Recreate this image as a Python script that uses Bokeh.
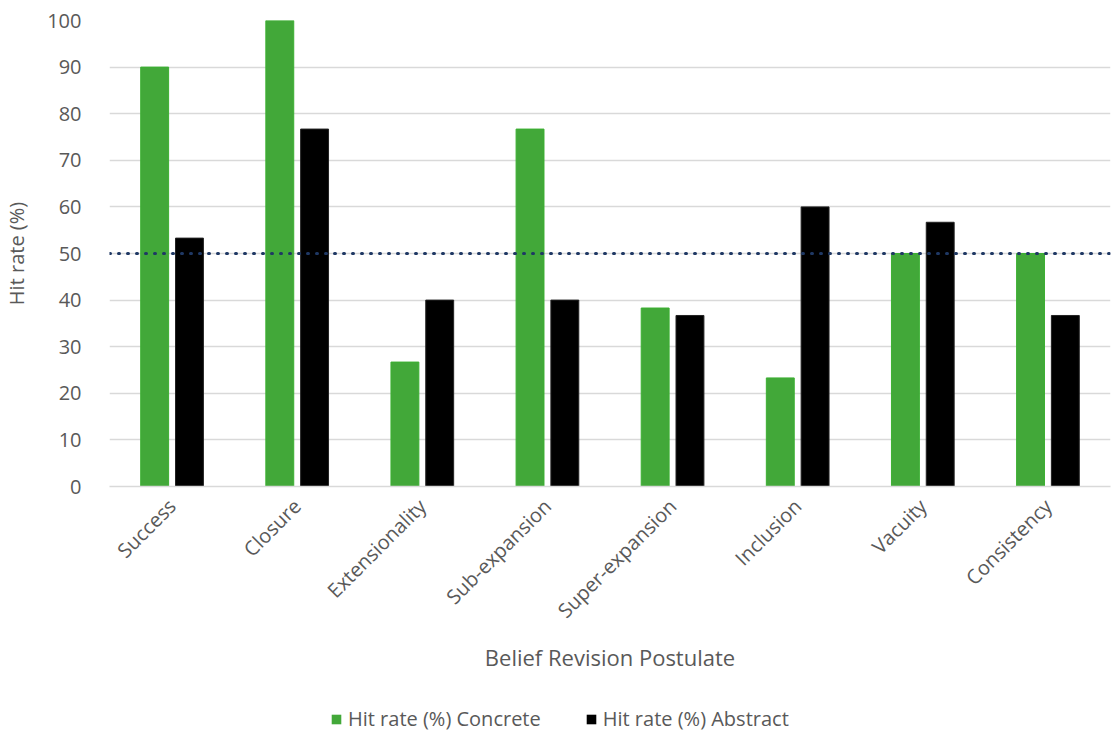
import numpy as np
from bokeh.plotting import figure
from bokeh.layouts import column
from bokeh.models import ColumnDataSource, FactorRange, Range1d, Span, Legend, LegendItem
from bokeh.transform import dodge
from bokeh.embed import file_html
from bokeh.resources import INLINE

categories = ["Success", "Closure", "Extensionality", "Sub-expansion",
              "Super-expansion", "Inclusion", "Vacuity", "Consistency"]
concrete = [90.0, 100.0, 26.7, 76.7, 38.3, 23.3, 50.0, 50.0]
abstract = [53.3, 76.7, 40.0, 40.0, 36.7, 60.0, 56.7, 36.7]
y_ticks = [0, 10, 20, 30, 40, 50, 60, 70, 80, 90, 100]
series_names = ["Hit rate (%) Concrete", "Hit rate (%) Abstract"]
threshold = 50

FONT = "Open Sans"
GREY = "#595959"
GREEN = "#42a839"
BLACK = "#000000"

src = ColumnDataSource(dict(cat=categories, concrete=concrete, abstract=abstract))

p = figure(width=1114, height=700, x_range=FactorRange(*categories),
           y_range=Range1d(0, 100), output_backend="svg", toolbar_location=None,
           min_border_left=104, min_border_right=4, min_border_top=20,
           min_border_bottom=214)
p.outline_line_color = None
p.background_fill_color = "white"
p.border_fill_color = "white"

p.vbar(x=dodge("cat", -0.139, range=p.x_range), top="concrete", width=0.223,
       source=src, fill_color=GREEN, line_color="#3cb032", line_width=1)
p.vbar(x=dodge("cat", 0.139, range=p.x_range), top="abstract", width=0.223,
       source=src, fill_color=BLACK, line_color="#222222", line_width=1)

p.add_layout(Span(location=threshold, dimension="width", line_color="#1f3864",
                  line_width=3, line_dash="1 8", line_cap="round"))

# y axis
p.yaxis.ticker = y_ticks
p.yaxis.axis_line_color = None
p.yaxis.major_tick_line_color = None
p.yaxis.minor_tick_line_color = None
p.yaxis.major_label_text_font = FONT
p.yaxis.major_label_text_font_size = "20px"
p.yaxis.major_label_text_color = GREY
p.yaxis.major_label_standoff = 22
p.yaxis.axis_label = "Hit rate (%)"
p.yaxis.axis_label_text_font = FONT
p.yaxis.axis_label_text_font_size = "20px"
p.yaxis.axis_label_text_font_style = "normal"
p.yaxis.axis_label_text_color = GREY
p.yaxis.axis_label_standoff = 14

# x axis
p.xaxis.axis_line_color = "#d9d9d9"
p.xaxis.axis_line_width = 1.5
p.xaxis.major_tick_line_color = None
p.xaxis.minor_tick_line_color = None
p.xaxis.major_label_orientation = np.pi / 4
p.xaxis.major_label_text_font = FONT
p.xaxis.major_label_text_font_size = "20px"
p.xaxis.major_label_text_color = GREY
p.xaxis.major_label_standoff = 10
p.xaxis.axis_label = "Belief Revision Postulate"
p.xaxis.axis_label_text_font = FONT
p.xaxis.axis_label_text_font_size = "22px"
p.xaxis.axis_label_text_font_style = "normal"
p.xaxis.axis_label_text_color = GREY
p.xaxis.axis_label_standoff = 6

p.xgrid.grid_line_color = None
p.ygrid.grid_line_color = "#d9d9d9"
p.ygrid.grid_line_width = 1.5

# legend strip below the chart
p2 = figure(width=1114, height=40, x_range=Range1d(0, 1), y_range=Range1d(0, 1),
            output_backend="svg", toolbar_location=None,
            x_axis_location=None, y_axis_location=None,
            min_border_left=0, min_border_right=0, min_border_top=0, min_border_bottom=0)
p2.outline_line_color = None
p2.xgrid.grid_line_color = None
p2.ygrid.grid_line_color = None
# legend-only renderers with zero area (draw nothing themselves)
hidden = ColumnDataSource(dict(x=[0.5], bottom=[0.5], top=[0.5]))
l1 = p2.vbar(x="x", bottom="bottom", top="top", width=0, source=hidden,
             fill_color=GREEN, line_alpha=0)
l2 = p2.vbar(x="x", bottom="bottom", top="top", width=0, source=hidden,
             fill_color=BLACK, line_alpha=0)

legend = Legend(items=[LegendItem(label=series_names[0], renderers=[l1]),
                       LegendItem(label=series_names[1], renderers=[l2])],
                orientation="horizontal", location=(221, 8),
                label_text_font=FONT, label_text_font_size="20px",
                label_text_color=GREY, glyph_width=12, glyph_height=12,
                spacing=44, border_line_color=None, background_fill_alpha=0,
                margin=0, padding=0, label_standoff=6)
p2.add_layout(legend, "center")

layout = column(p, p2, spacing=0)
open("out.html", "w").write(file_html(layout, INLINE))
